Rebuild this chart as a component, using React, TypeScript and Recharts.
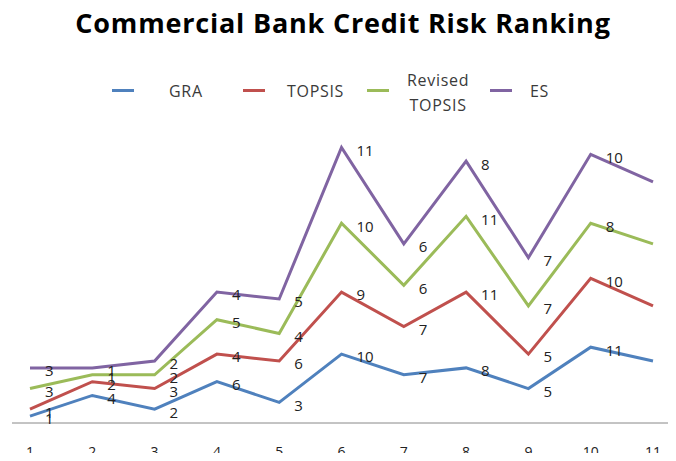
import { LineChart, Line, XAxis, YAxis, LabelList } from "recharts";

const categories = ["1", "2", "3", "4", "5", "6", "7", "8", "9", "10", "11"];
const graRank = [1, 4, 2, 6, 3, 10, 7, 8, 5, 11, 9];
const topsisRank = [1, 2, 3, 4, 6, 9, 7, 11, 5, 10, 8];
const revisedRank = [3, 1, 2, 5, 4, 10, 6, 11, 7, 8, 9];
const esRank = [3, 1, 2, 4, 5, 11, 6, 8, 7, 10, 9];

const series = [
  { key: "gra", name: "GRA", color: "#4F81BD" },
  { key: "topsis", name: "TOPSIS", color: "#C0504D" },
  { key: "revised", name: "Revised TOPSIS", color: "#9BBB59" },
  { key: "es", name: "ES", color: "#8064A2" },
];

// stacked line chart: each line sits on top of the previous ones
const data = categories.map((cat, i) => {
  const a = graRank[i];
  const b = a + topsisRank[i];
  const c = b + revisedRank[i];
  const d = c + esRank[i];
  return {
    cat,
    gra: a,
    topsis: b,
    revised: c,
    es: d,
    graLabel: graRank[i],
    topsisLabel: topsisRank[i],
    revisedLabel: revisedRank[i],
    esLabel: esRank[i],
  };
});

const font = "'Open Sans', 'DejaVu Sans', sans-serif";

function Legend() {
  const items = [
    { name: ["GRA"], color: series[0].color, line: 112, text: 169 },
    { name: ["TOPSIS"], color: series[1].color, line: 243, text: 287 },
    { name: ["Revised", "TOPSIS"], color: series[2].color, line: 367, text: 407 },
    { name: ["ES"], color: series[3].color, line: 490, text: 530 },
  ];
  return (
    <>
      {items.map((it) => (
        <div key={it.name.join(" ")}>
          <div
            style={{
              position: "absolute",
              left: it.line,
              top: 89,
              width: 22,
              height: 3,
              background: it.color,
            }}
          />
          <div
            style={{
              position: "absolute",
              left: it.text,
              top: it.name.length > 1 ? 68 : 79,
              fontFamily: font,
              fontSize: 16,
              letterSpacing: 0.7,
              lineHeight: "25px",
              color: "#3a3a3a",
              textAlign: "center",
            }}
          >
            {it.name.map((n) => (
              <div key={n}>{n}</div>
            ))}
          </div>
        </div>
      ))}
    </>
  );
}

export default function App() {
  return (
    <div
      style={{
        position: "relative",
        width: 676,
        height: 461,
        margin: -8,
        background: "#fff",
        overflow: "hidden",
      }}
    >
      <div
        style={{
          position: "absolute",
          left: 10,
          top: 4,
          width: 666,
          textAlign: "center",
          fontFamily: font,
          fontWeight: 700,
          fontSize: 27,
          letterSpacing: 0.8,
          whiteSpace: "nowrap",
          color: "#000",
        }}
      >
        Commercial Bank Credit Risk Ranking
      </div>
      <Legend />
      <LineChart
        width={676}
        height={461}
        data={data}
        margin={{ top: 113, right: 0, bottom: 0, left: 12 }}
      >
        <YAxis hide domain={[0, 45]} />
        <XAxis
          dataKey="cat"
          height={38}
          tickLine={false}
          tickMargin={18}
          padding={{ left: 18, right: 23 }}
          stroke="#888"
          tick={{ fill: "#222", fontSize: 14, fontFamily: font }}
        />
        {series.map((s) => (
          <Line
            key={s.key}
            dataKey={s.key}
            name={s.name}
            stroke={s.color}
            strokeWidth={3}
            dot={false}
            isAnimationActive={false}
          >
            <LabelList
              dataKey={`${s.key}Label`}
              position="right"
              offset={15}
              dy={3}
              fill="#222"
              fontSize={15}
              fontFamily={font}
            />
          </Line>
        ))}
      </LineChart>
    </div>
  );
}
